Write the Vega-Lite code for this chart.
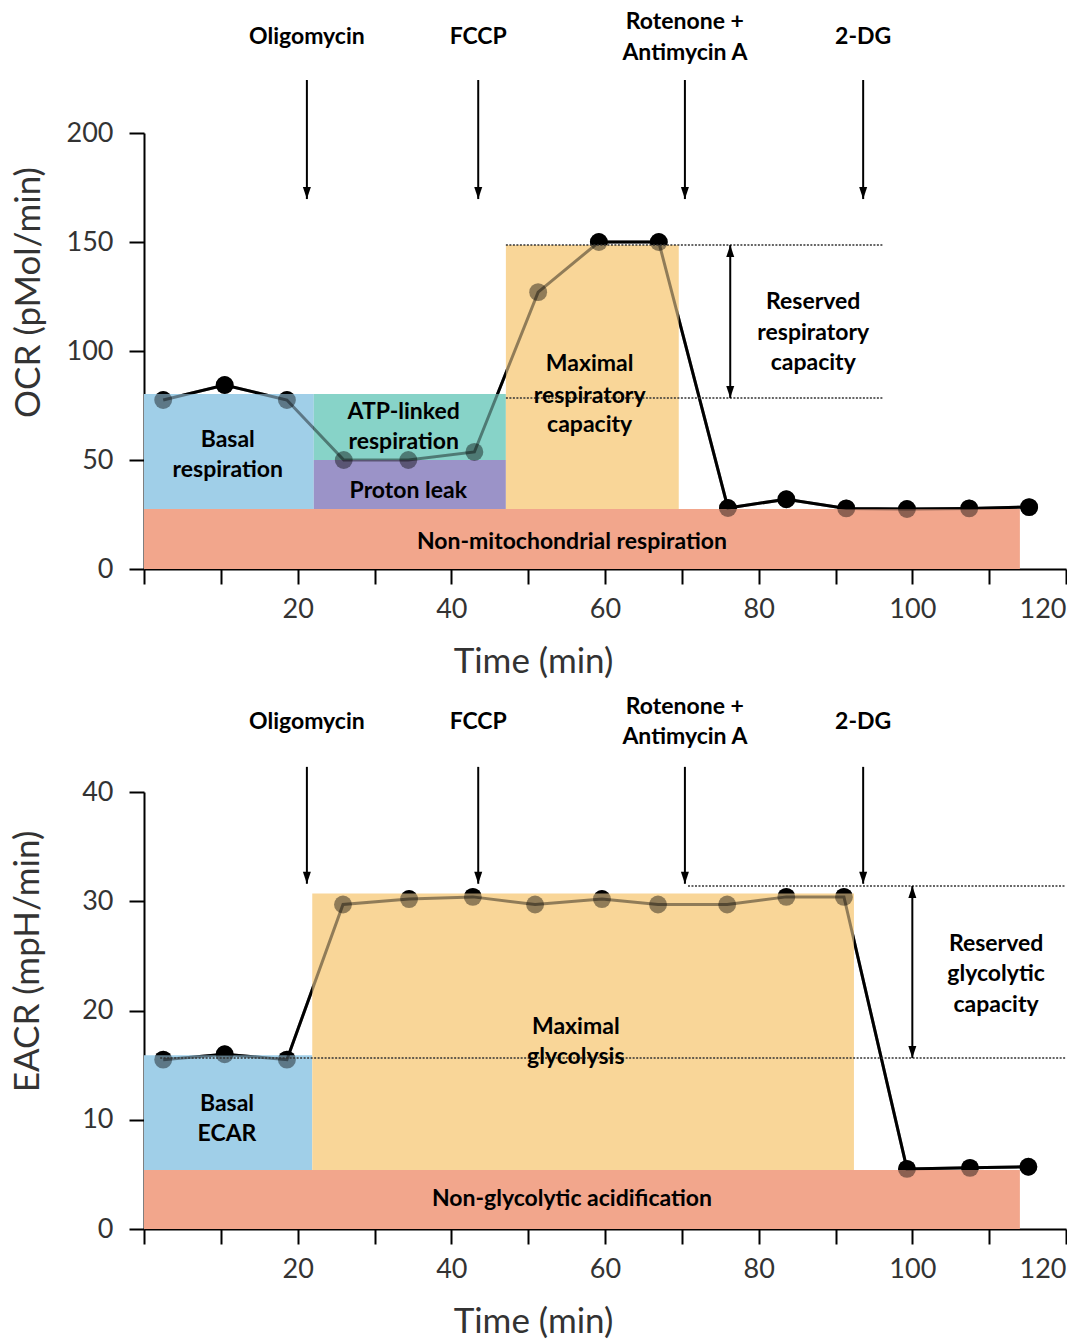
{
  "$schema": "https://vega.github.io/schema/vega-lite/v6.json",
  "padding": {"left": 10, "top": 10, "right": 0, "bottom": 0},
  "spacing": 16,
  "config": {
    "view": {"stroke": null},
    "font": "Lato",
    "axis": {
      "grid": false,
      "domainColor": "black",
      "domainWidth": 2,
      "tickColor": "black",
      "tickWidth": 2,
      "tickSize": 15,
      "labelFont": "Lato",
      "labelFontSize": 27,
      "labelColor": "#333333",
      "titleFont": "Lato",
      "titleFontSize": 35,
      "titleFontWeight": "normal",
      "titleColor": "#333333"
    }
  },
  "datasets": {
    "ocr": [
      {"t": 2.5, "v": 77.5}, {"t": 10.5, "v": 84.4}, {"t": 18.6, "v": 77.5},
      {"t": 26.0, "v": 50.0}, {"t": 34.4, "v": 50.0}, {"t": 43.0, "v": 53.7},
      {"t": 51.3, "v": 127.0}, {"t": 59.2, "v": 150.0}, {"t": 67.0, "v": 150.0},
      {"t": 76.0, "v": 28.0}, {"t": 83.6, "v": 32.0}, {"t": 91.4, "v": 27.8},
      {"t": 99.3, "v": 27.5}, {"t": 107.4, "v": 27.8}, {"t": 115.2, "v": 28.4}
    ],
    "ecar": [
      {"t": 2.5, "v": 15.5}, {"t": 10.5, "v": 16.0}, {"t": 18.6, "v": 15.5},
      {"t": 25.9, "v": 29.7}, {"t": 34.5, "v": 30.2}, {"t": 42.8, "v": 30.4},
      {"t": 50.9, "v": 29.7}, {"t": 59.6, "v": 30.2}, {"t": 66.9, "v": 29.7},
      {"t": 75.9, "v": 29.7}, {"t": 83.6, "v": 30.4}, {"t": 91.1, "v": 30.4},
      {"t": 99.3, "v": 5.5}, {"t": 107.5, "v": 5.6}, {"t": 115.1, "v": 5.7}
    ],
    "ocr_regions": [
      {"kind": "nonmito", "x": 0, "x2": 114, "y": 0, "y2": 27.5},
      {"kind": "basal", "x": 0, "x2": 22.1, "y": 27.5, "y2": 80.3},
      {"kind": "atp", "x": 22.1, "x2": 47.1, "y": 50, "y2": 80.3},
      {"kind": "leak", "x": 22.1, "x2": 47.1, "y": 27.5, "y2": 50},
      {"kind": "max", "x": 47.1, "x2": 69.6, "y": 27.5, "y2": 148.6}
    ],
    "ecar_regions": [
      {"kind": "nonmito", "x": 0, "x2": 114, "y": 0, "y2": 5.4},
      {"kind": "basal", "x": 0, "x2": 21.9, "y": 5.4, "y2": 15.9},
      {"kind": "max", "x": 21.9, "x2": 92.4, "y": 5.4, "y2": 30.7}
    ],
    "ocr_dotted": [
      {"x": 47.1, "x2": 96.2, "y": 148.6},
      {"x": 47.1, "x2": 96.2, "y": 78.4}
    ],
    "ecar_dotted": [
      {"x": 2.1, "x2": 120, "y": 15.65},
      {"x": 70.8, "x2": 120, "y": 31.4}
    ],
    "ocr_arrows": [
      {"x": 21.2, "y": 224.3, "y2": 169.7},
      {"x": 43.5, "y": 224.3, "y2": 169.7},
      {"x": 70.4, "y": 224.3, "y2": 169.7},
      {"x": 93.6, "y": 224.3, "y2": 169.7},
      {"x": 76.3, "y": 148.6, "y2": 78.4}
    ],
    "ecar_arrows": [
      {"x": 21.2, "y": 42.3, "y2": 31.6},
      {"x": 43.5, "y": 42.3, "y2": 31.6},
      {"x": 70.4, "y": 42.3, "y2": 31.6},
      {"x": 93.6, "y": 42.3, "y2": 31.6},
      {"x": 100.0, "y": 31.4, "y2": 15.65}
    ],
    "ocr_heads": [
      {"x": 21.2, "y": 169.7, "dir": "down"},
      {"x": 43.5, "y": 169.7, "dir": "down"},
      {"x": 70.4, "y": 169.7, "dir": "down"},
      {"x": 93.6, "y": 169.7, "dir": "down"},
      {"x": 76.3, "y": 148.6, "dir": "up"},
      {"x": 76.3, "y": 78.4, "dir": "down"}
    ],
    "ecar_heads": [
      {"x": 21.2, "y": 31.6, "dir": "down"},
      {"x": 43.5, "y": 31.6, "dir": "down"},
      {"x": 70.4, "y": 31.6, "dir": "down"},
      {"x": 93.6, "y": 31.6, "dir": "down"},
      {"x": 100.0, "y": 31.4, "dir": "up"},
      {"x": 100.0, "y": 15.65, "dir": "down"}
    ],
    "ocr_text": [
      {"x": 21.2, "y": 244, "text": "Oligomycin"},
      {"x": 43.5, "y": 244, "text": "FCCP"},
      {"x": 70.4, "y": 251, "text": "Rotenone +"},
      {"x": 70.4, "y": 236.7, "text": "Antimycin A"},
      {"x": 93.6, "y": 244, "text": "2-DG"},
      {"x": 10.9, "y": 59, "text": "Basal"},
      {"x": 10.9, "y": 45.4, "text": "respiration"},
      {"x": 33.8, "y": 72, "text": "ATP-linked"},
      {"x": 33.8, "y": 58.3, "text": "respiration"},
      {"x": 34.4, "y": 36, "text": "Proton leak"},
      {"x": 58, "y": 94, "text": "Maximal"},
      {"x": 58, "y": 79.5, "text": "respiratory"},
      {"x": 58, "y": 66, "text": "capacity"},
      {"x": 87.1, "y": 122.5, "text": "Reserved"},
      {"x": 87.1, "y": 108.3, "text": "respiratory"},
      {"x": 87.1, "y": 94.3, "text": "capacity"},
      {"x": 55.7, "y": 12.4, "text": "Non-mitochondrial respiration"}
    ],
    "ecar_text": [
      {"x": 21.2, "y": 46.4, "text": "Oligomycin"},
      {"x": 43.5, "y": 46.4, "text": "FCCP"},
      {"x": 70.4, "y": 47.8, "text": "Rotenone +"},
      {"x": 70.4, "y": 45.0, "text": "Antimycin A"},
      {"x": 93.6, "y": 46.4, "text": "2-DG"},
      {"x": 10.8, "y": 11.4, "text": "Basal"},
      {"x": 10.8, "y": 8.7, "text": "ECAR"},
      {"x": 56.2, "y": 18.5, "text": "Maximal"},
      {"x": 56.2, "y": 15.7, "text": "glycolysis"},
      {"x": 110.9, "y": 26.1, "text": "Reserved"},
      {"x": 110.9, "y": 23.3, "text": "glycolytic"},
      {"x": 110.9, "y": 20.5, "text": "capacity"},
      {"x": 55.7, "y": 2.75, "text": "Non-glycolytic acidification"}
    ]
  },
  "vconcat": [
    {
      "width": 922,
      "height": 436,
      "encoding": {
        "x": {"type": "quantitative", "scale": {"domain": [0, 120], "nice": false, "zero": false},
          "axis": {"title": "Time (min)", "values": [0,10,20,30,40,50,60,70,80,90,100,110,120],
            "labelExpr": "datum.value > 0 && datum.value % 20 == 0 ? datum.label : ''",
            "labelPadding": 12, "titlePadding": 22, "titleX": 389}},
        "y": {"type": "quantitative", "scale": {"domain": [0, 200], "nice": false},
          "axis": {"title": "OCR (pMol/min)", "values": [0,50,100,150,200], "labelPadding": 16, "titlePadding": 20, "titleY": 159}}
      },
      "layer": [
        {"data": {"name": "ocr"}, "mark": {"type": "line", "color": "black", "strokeWidth": 3},
          "encoding": {"x": {"field": "t", "type": "quantitative"}, "y": {"field": "v", "type": "quantitative"}}},
        {"data": {"name": "ocr"}, "mark": {"type": "point", "filled": true, "color": "black", "opacity": 1, "size": 320},
          "encoding": {"x": {"field": "t", "type": "quantitative"}, "y": {"field": "v", "type": "quantitative"}}},
        {"data": {"name": "ocr_regions"}, "mark": {"type": "rect", "opacity": 1},
          "encoding": {"x": {"field": "x", "type": "quantitative"}, "x2": {"field": "x2"},
            "y": {"field": "y", "type": "quantitative"}, "y2": {"field": "y2"},
            "color": {"field": "kind", "type": "nominal", "legend": null,
              "scale": {"domain": ["nonmito", "basal", "atp", "leak", "max"], "range": ["#F2A68C", "#A0CFE8", "#87D3C8", "#9B93C8", "#F9D698"]}}}},
        {"data": {"name": "ocr"}, "mark": {"type": "line", "color": "black", "strokeWidth": 3, "opacity": 0.42},
          "encoding": {"x": {"field": "t", "type": "quantitative"}, "y": {"field": "v", "type": "quantitative"}}},
        {"data": {"name": "ocr"}, "mark": {"type": "point", "filled": true, "color": "black", "opacity": 0.42, "size": 320},
          "encoding": {"x": {"field": "t", "type": "quantitative"}, "y": {"field": "v", "type": "quantitative"}}},
        {"data": {"name": "ocr_dotted"}, "mark": {"type": "rule", "color": "#333333", "strokeWidth": 1.5, "strokeDash": [2, 1.5]},
          "encoding": {"x": {"field": "x", "type": "quantitative"}, "x2": {"field": "x2"}, "y": {"field": "y", "type": "quantitative"}}},
        {"data": {"name": "ocr_arrows"}, "mark": {"type": "rule", "color": "black", "strokeWidth": 2},
          "encoding": {"x": {"field": "x", "type": "quantitative"}, "y": {"field": "y", "type": "quantitative"}, "y2": {"field": "y2"}}},
        {"data": {"name": "ocr_heads"}, "mark": {"type": "point", "filled": true, "color": "black", "opacity": 1, "size": 100},
          "encoding": {"x": {"field": "x", "type": "quantitative"}, "y": {"field": "y", "type": "quantitative"},
            "shape": {"field": "dir", "type": "nominal", "legend": null,
              "scale": {"domain": ["down", "up"], "range": ["M-0.8,-2.4L0.8,-2.4L0,0Z", "M-0.8,2.4L0.8,2.4L0,0Z"]}}}},
        {"data": {"name": "ocr_text"}, "mark": {"type": "text", "font": "Lato", "fontWeight": "bold", "fontSize": 23, "color": "black", "baseline": "middle", "align": "center"},
          "encoding": {"x": {"field": "x", "type": "quantitative"}, "y": {"field": "y", "type": "quantitative"}, "text": {"field": "text", "type": "nominal"}}}
      ]
    },
    {
      "width": 922,
      "height": 437,
      "encoding": {
        "x": {"type": "quantitative", "scale": {"domain": [0, 120], "nice": false, "zero": false},
          "axis": {"title": "Time (min)", "values": [0,10,20,30,40,50,60,70,80,90,100,110,120],
            "labelExpr": "datum.value > 0 && datum.value % 20 == 0 ? datum.label : ''",
            "labelPadding": 12, "titlePadding": 22, "titleX": 389}},
        "y": {"type": "quantitative", "scale": {"domain": [0, 40], "nice": false},
          "axis": {"title": "EACR (mpH/min)", "values": [0,10,20,30,40], "labelPadding": 16, "titlePadding": 36, "titleY": 169}}
      },
      "layer": [
        {"data": {"name": "ecar"}, "mark": {"type": "line", "color": "black", "strokeWidth": 3},
          "encoding": {"x": {"field": "t", "type": "quantitative"}, "y": {"field": "v", "type": "quantitative"}}},
        {"data": {"name": "ecar"}, "mark": {"type": "point", "filled": true, "color": "black", "opacity": 1, "size": 320},
          "encoding": {"x": {"field": "t", "type": "quantitative"}, "y": {"field": "v", "type": "quantitative"}}},
        {"data": {"name": "ecar_regions"}, "mark": {"type": "rect", "opacity": 1},
          "encoding": {"x": {"field": "x", "type": "quantitative"}, "x2": {"field": "x2"},
            "y": {"field": "y", "type": "quantitative"}, "y2": {"field": "y2"},
            "color": {"field": "kind", "type": "nominal", "legend": null,
              "scale": {"domain": ["nonmito", "basal", "atp", "leak", "max"], "range": ["#F2A68C", "#A0CFE8", "#87D3C8", "#9B93C8", "#F9D698"]}}}},
        {"data": {"name": "ecar"}, "mark": {"type": "line", "color": "black", "strokeWidth": 3, "opacity": 0.42},
          "encoding": {"x": {"field": "t", "type": "quantitative"}, "y": {"field": "v", "type": "quantitative"}}},
        {"data": {"name": "ecar"}, "mark": {"type": "point", "filled": true, "color": "black", "opacity": 0.42, "size": 320},
          "encoding": {"x": {"field": "t", "type": "quantitative"}, "y": {"field": "v", "type": "quantitative"}}},
        {"data": {"name": "ecar_dotted"}, "mark": {"type": "rule", "color": "#333333", "strokeWidth": 1.5, "strokeDash": [2, 1.5]},
          "encoding": {"x": {"field": "x", "type": "quantitative"}, "x2": {"field": "x2"}, "y": {"field": "y", "type": "quantitative"}}},
        {"data": {"name": "ecar_arrows"}, "mark": {"type": "rule", "color": "black", "strokeWidth": 2},
          "encoding": {"x": {"field": "x", "type": "quantitative"}, "y": {"field": "y", "type": "quantitative"}, "y2": {"field": "y2"}}},
        {"data": {"name": "ecar_heads"}, "mark": {"type": "point", "filled": true, "color": "black", "opacity": 1, "size": 100},
          "encoding": {"x": {"field": "x", "type": "quantitative"}, "y": {"field": "y", "type": "quantitative"},
            "shape": {"field": "dir", "type": "nominal", "legend": null,
              "scale": {"domain": ["down", "up"], "range": ["M-0.8,-2.4L0.8,-2.4L0,0Z", "M-0.8,2.4L0.8,2.4L0,0Z"]}}}},
        {"data": {"name": "ecar_text"}, "mark": {"type": "text", "font": "Lato", "fontWeight": "bold", "fontSize": 23, "color": "black", "baseline": "middle", "align": "center"},
          "encoding": {"x": {"field": "x", "type": "quantitative"}, "y": {"field": "y", "type": "quantitative"}, "text": {"field": "text", "type": "nominal"}}}
      ]
    }
  ]
}
